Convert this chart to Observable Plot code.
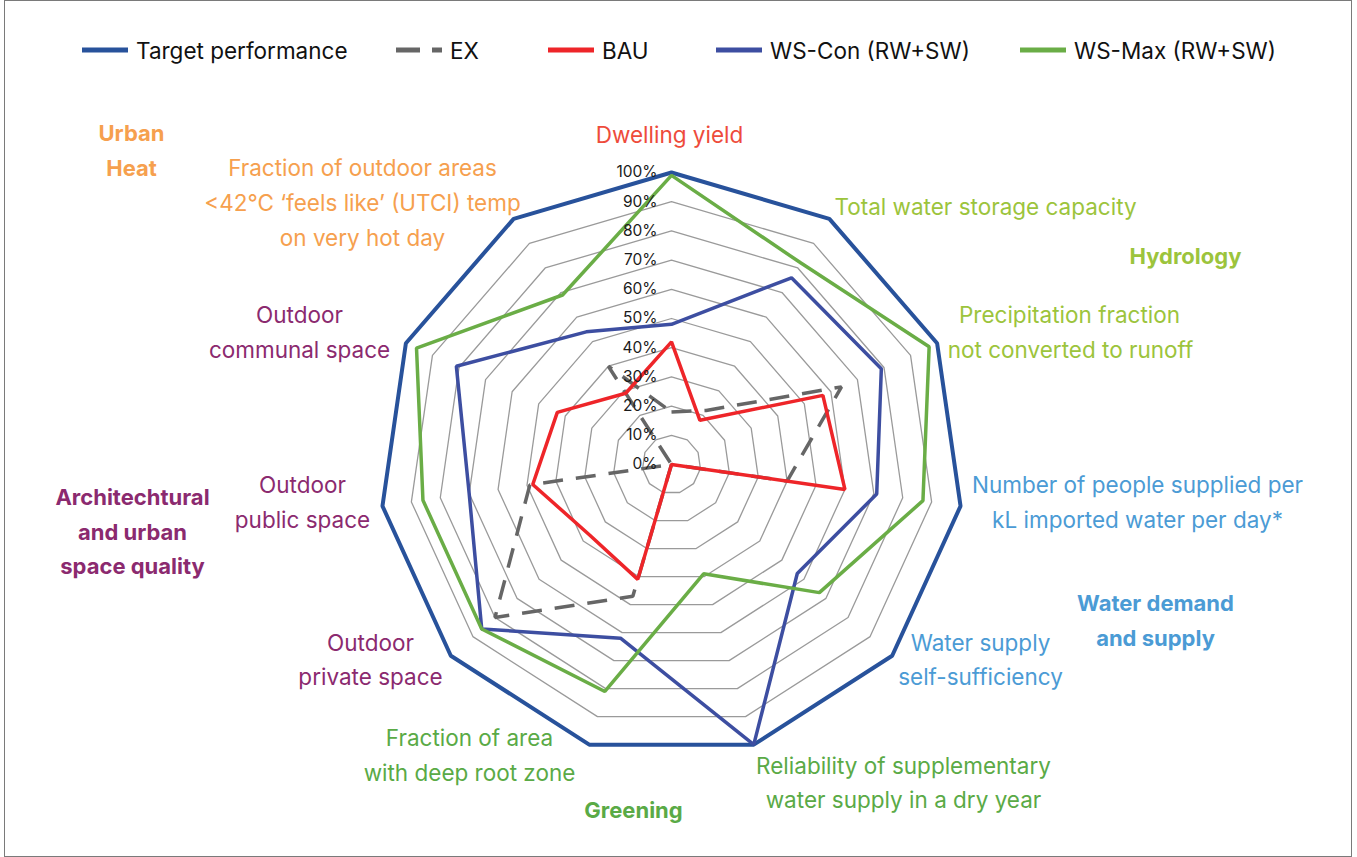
<!DOCTYPE html>
<html>
<head>
<meta charset="utf-8">
<script src="https://cdn.jsdelivr.net/npm/d3@7"></script>
<script src="https://cdn.jsdelivr.net/npm/@observablehq/plot@0.6"></script>
<style>
  body { margin: 0; background: #fff; font-family: Inter, "Open Sans", sans-serif; }
  #wrap { position: relative; width: 1357px; height: 857px; overflow: hidden; }
  #frame { position: absolute; left: 4px; top: 0; width: 1346px; height: 855px; border: 1.5px solid #7a7a7a; pointer-events: none; }
  #legend { position: relative; width: 1357px; height: 100px; }
  .item { position: absolute; top: 36px; height: 28px; display: flex; align-items: center; font-size: 22.5px; color: #111; }
  .item svg { margin-right: 8px; }
</style>
</head>
<body>
<div id="wrap">
  <div id="legend"></div>
  <div id="chart"></div>
  <div id="frame"></div>
</div>
<script>
// ---- data ----
const axes = [
  "Dwelling yield",
  "Total water storage capacity",
  "Precipitation fraction not converted to runoff",
  "Number of people supplied per kL imported water per day*",
  "Water supply self-sufficiency",
  "Reliability of supplementary water supply in a dry year",
  "Fraction of area with deep root zone",
  "Outdoor private space",
  "Outdoor public space",
  "Outdoor communal space",
  "Fraction of outdoor areas <42°C ‘feels like’ (UTCI) temp on very hot day"
];
const seriesNames = ["Target performance", "EX", "BAU", "WS-Con (RW+SW)", "WS-Max (RW+SW)"];
const target = [100, 100, 100, 100, 100, 100, 100, 100, 100, 100, 100];
const ex     = [18, 22, 64, 40, 0, 0, 47, 80, 49, 0, 40];
const bau    = [42, 18, 57, 60, 0, 0, 41, 37, 48, 43, 29];
const wsCon  = [48, 76, 79, 71, 57, 100, 62, 86, 70, 81, 54];
const wsMax  = [99, 82, 97, 87, 67, 39, 81, 86, 86, 96, 69];
const tickLevels = [0, 10, 20, 30, 40, 50, 60, 70, 80, 90, 100];
const tickLabels = ["0%", "10%", "20%", "30%", "40%", "50%", "60%", "70%", "80%", "90%", "100%"];

// ---- styles ----
const seriesValues = [target, ex, bau, wsCon, wsMax];
const seriesStyle = [
  {stroke: "#28529b", width: 4},
  {stroke: "#666666", width: 3.5, dash: "20,13"},
  {stroke: "#ee2529", width: 3.5},
  {stroke: "#3d4ea1", width: 3.5},
  {stroke: "#6aad46", width: 3.5}
];

// ---- geometry (pixel layout) ----
const W = 1357, H = 757, CX = 671, CY = 364, R = 292, LEG = 100;
const N = axes.length;
const ang = i => 2 * Math.PI * i / N;
const pt = (v, i) => ({x: v / 100 * Math.sin(ang(i)), y: v / 100 * Math.cos(ang(i))});
const toX = px => (px - CX) / R;
const toY = pageY => (CY - (pageY - LEG)) / R;

const seriesData = seriesValues.map((vals, s) => vals.map((v, i) => ({series: seriesNames[s], ...pt(v, i)})));
const rings = tickLevels.filter(l => l > 0).flatMap(l => axes.map((_, i) => ({level: l, ...pt(l, i)})));
const ticks = tickLevels.map((l, k) => ({label: tickLabels[k], ...pt(l, 0)}));

const colors = {
  dwell: "#ee4b3b", hydro: "#9cc43c", water: "#4b9bd5", green: "#5aaa46", arch: "#8b2a6f", heat: "#f6a04e"
};
const labelLines = [
  {t: "Dwelling yield", x: 669, y: 135, c: colors.dwell},
  {t: "Total water storage capacity", x: 985, y: 207, c: colors.hydro},
  {t: "Precipitation fraction", x: 1069, y: 315, c: colors.hydro},
  {t: "not converted to runoff", x: 1070, y: 350, c: colors.hydro},
  {t: "Number of people supplied per", x: 1137, y: 485, c: colors.water},
  {t: "kL imported water per day*", x: 1137, y: 520, c: colors.water},
  {t: "Water supply", x: 980, y: 643, c: colors.water},
  {t: "self-sufficiency", x: 980, y: 677, c: colors.water},
  {t: "Reliability of supplementary", x: 903, y: 766, c: colors.green},
  {t: "water supply in a dry year", x: 903, y: 800, c: colors.green},
  {t: "Fraction of area", x: 469, y: 738, c: colors.green},
  {t: "with deep root zone", x: 469, y: 773, c: colors.green},
  {t: "Outdoor", x: 370, y: 643, c: colors.arch},
  {t: "private space", x: 370, y: 677, c: colors.arch},
  {t: "Outdoor", x: 302, y: 485, c: colors.arch},
  {t: "public space", x: 302, y: 520, c: colors.arch},
  {t: "Outdoor", x: 299, y: 315, c: colors.arch},
  {t: "communal space", x: 299, y: 350, c: colors.arch},
  {t: "Fraction of outdoor areas", x: 362, y: 168, c: colors.heat},
  {t: "<42°C ‘feels like’ (UTCI) temp", x: 362, y: 203, c: colors.heat},
  {t: "on very hot day", x: 362, y: 238, c: colors.heat}
];
const groupLines = [
  {t: "Urban", x: 131, y: 133, c: colors.heat},
  {t: "Heat", x: 131, y: 168, c: colors.heat},
  {t: "Hydrology", x: 1185, y: 256, c: colors.hydro},
  {t: "Water demand", x: 1155, y: 603, c: colors.water},
  {t: "and supply", x: 1155, y: 638, c: colors.water},
  {t: "Greening", x: 633, y: 810, c: colors.green},
  {t: "Architechtural", x: 132, y: 497, c: colors.arch},
  {t: "and urban", x: 132, y: 532, c: colors.arch},
  {t: "space quality", x: 132, y: 566, c: colors.arch}
];

const FONT = "Inter, 'Open Sans', sans-serif";
const marks = [
  Plot.line(rings, {x: "x", y: "y", z: "level", curve: "linear-closed", stroke: "#9a9a9a", strokeWidth: 1.3})
];
seriesData.forEach((d, s) => {
  const st = seriesStyle[s];
  marks.push(Plot.line(d, {x: "x", y: "y", curve: "linear-closed", stroke: st.stroke, strokeWidth: st.width,
    strokeDasharray: st.dash, strokeLinejoin: "miter", strokeLinecap: "butt"}));
});
marks.push(Plot.text(ticks, {x: "x", y: "y", text: "label", textAnchor: "end", dx: -14, fontSize: 15.5, fill: "#1a1a1a", fontFamily: FONT}));
marks.push(Plot.text(labelLines, {x: d => toX(d.x), y: d => toY(d.y), text: "t", fill: "c", fontSize: 22.5, fontFamily: FONT}));
marks.push(Plot.text(groupLines, {x: d => toX(d.x), y: d => toY(d.y), text: "t", fill: "c", fontSize: 22, fontWeight: "bold", fontFamily: FONT}));

const chart = Plot.plot({
  width: W, height: H, margin: 0,
  x: {domain: [toX(0), toX(W)], axis: null},
  y: {domain: [(CY - H) / R, CY / R], axis: null},
  style: {fontFamily: FONT, background: "transparent", overflow: "visible"},
  marks
});
document.getElementById("chart").appendChild(chart);

// ---- legend ----
const legendX = [82, 396, 548, 716, 1020];
const leg = document.getElementById("legend");
seriesNames.forEach((name, s) => {
  const st = seriesStyle[s];
  const div = document.createElement("div");
  div.className = "item";
  div.style.left = legendX[s] + "px";
  div.innerHTML = `<svg width="46" height="10"><line x1="0" y1="5" x2="46" y2="5" stroke="${st.stroke}" stroke-width="5" ${st.dash ? 'stroke-dasharray="24,12"' : ""}/></svg><span>${name}</span>`;
  leg.appendChild(div);
});
</script>
</body>
</html>
